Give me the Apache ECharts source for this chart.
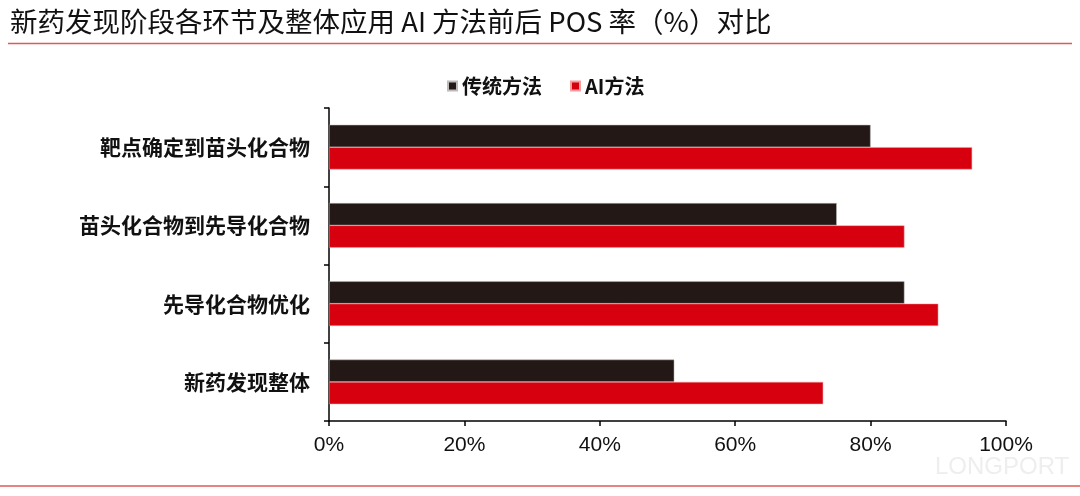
<!DOCTYPE html>
<html><head><meta charset="utf-8">
<script src="https://cdn.jsdelivr.net/npm/echarts@6/dist/echarts.min.js"></script>
<style>html,body{margin:0;padding:0;background:#fff}#c{width:1080px;height:496px}</style>
</head><body><div id="c"></div>
<script>
const categories = ['靶点确定到苗头化合物','苗头化合物到先导化合物','先导化合物优化','新药发现整体'];
const traditional = [80, 75, 85, 51];
const aiMethod = [95, 85, 90, 73];
const seriesNames = ['传统方法','AI方法'];
const titleText = '新药发现阶段各环节及整体应用 AI 方法前后 POS 率（%）对比';

const FONT = '"Liberation Sans", "Noto Sans CJK SC", sans-serif';
const CJK = '"Noto Sans CJK SC", sans-serif';
const chart = echarts.init(document.getElementById('c'));
chart.setOption({
  backgroundColor: '#fff',
  animation: false,
  textStyle: {fontFamily: FONT},
  title: {text: titleText, left: 5, top: 3, textStyle: {fontSize: 27.5, fontWeight: 'normal', color: '#111', fontFamily: CJK}},
  graphic: [
    {type: 'line', shape: {x1: 8, y1: 43.5, x2: 1072, y2: 43.5}, style: {stroke: '#e05a5a', lineWidth: 1.5}},
    {type: 'line', shape: {x1: 0, y1: 486, x2: 1080, y2: 486}, style: {stroke: '#e05a5a', lineWidth: 1.5}},
    {type: 'text', left: 935, top: 455, style: {text: 'LONGPORT', fill: '#eeeeee', fontSize: 24, fontFamily: FONT}}
  ],
  legend: {
    data: seriesNames, top: 71, left: 442, itemWidth: 9, itemHeight: 9, itemGap: 28,
    icon: 'rect',
    textStyle: {fontSize: 20, color: '#111', fontWeight: 'bold', fontFamily: CJK}
  },
  grid: {left: 329, right: 74, top: 108, bottom: 75},
  xAxis: {
    type: 'value', min: 0, max: 100, interval: 20,
    axisLine: {show: true, lineStyle: {color: '#000', width: 1.5}},
    axisTick: {show: true, length: 5, lineStyle: {color: '#000', width: 1.5}},
    axisLabel: {formatter: '{value}%', fontSize: 21, color: '#111', margin: 14, fontFamily: FONT},
    splitLine: {show: false}
  },
  yAxis: {
    type: 'category', data: categories, inverse: true,
    axisLine: {show: true, lineStyle: {color: '#000', width: 1.5}},
    axisTick: {show: true, length: 5, lineStyle: {color: '#000', width: 1.5}},
    axisLabel: {fontSize: 21, color: '#111', fontWeight: 'bold', margin: 19, fontFamily: CJK}
  },
  series: [
    {name: seriesNames[0], type: 'bar', data: traditional, barGap: '0%', barCategoryGap: '43%',
     itemStyle: {color: '#231815', borderColor: '#bbb', borderWidth: 0.5}},
    {name: seriesNames[1], type: 'bar', data: aiMethod,
     itemStyle: {color: '#d7000f', borderColor: '#f4a0a0', borderWidth: 0.5}}
  ]
});
</script></body></html>
